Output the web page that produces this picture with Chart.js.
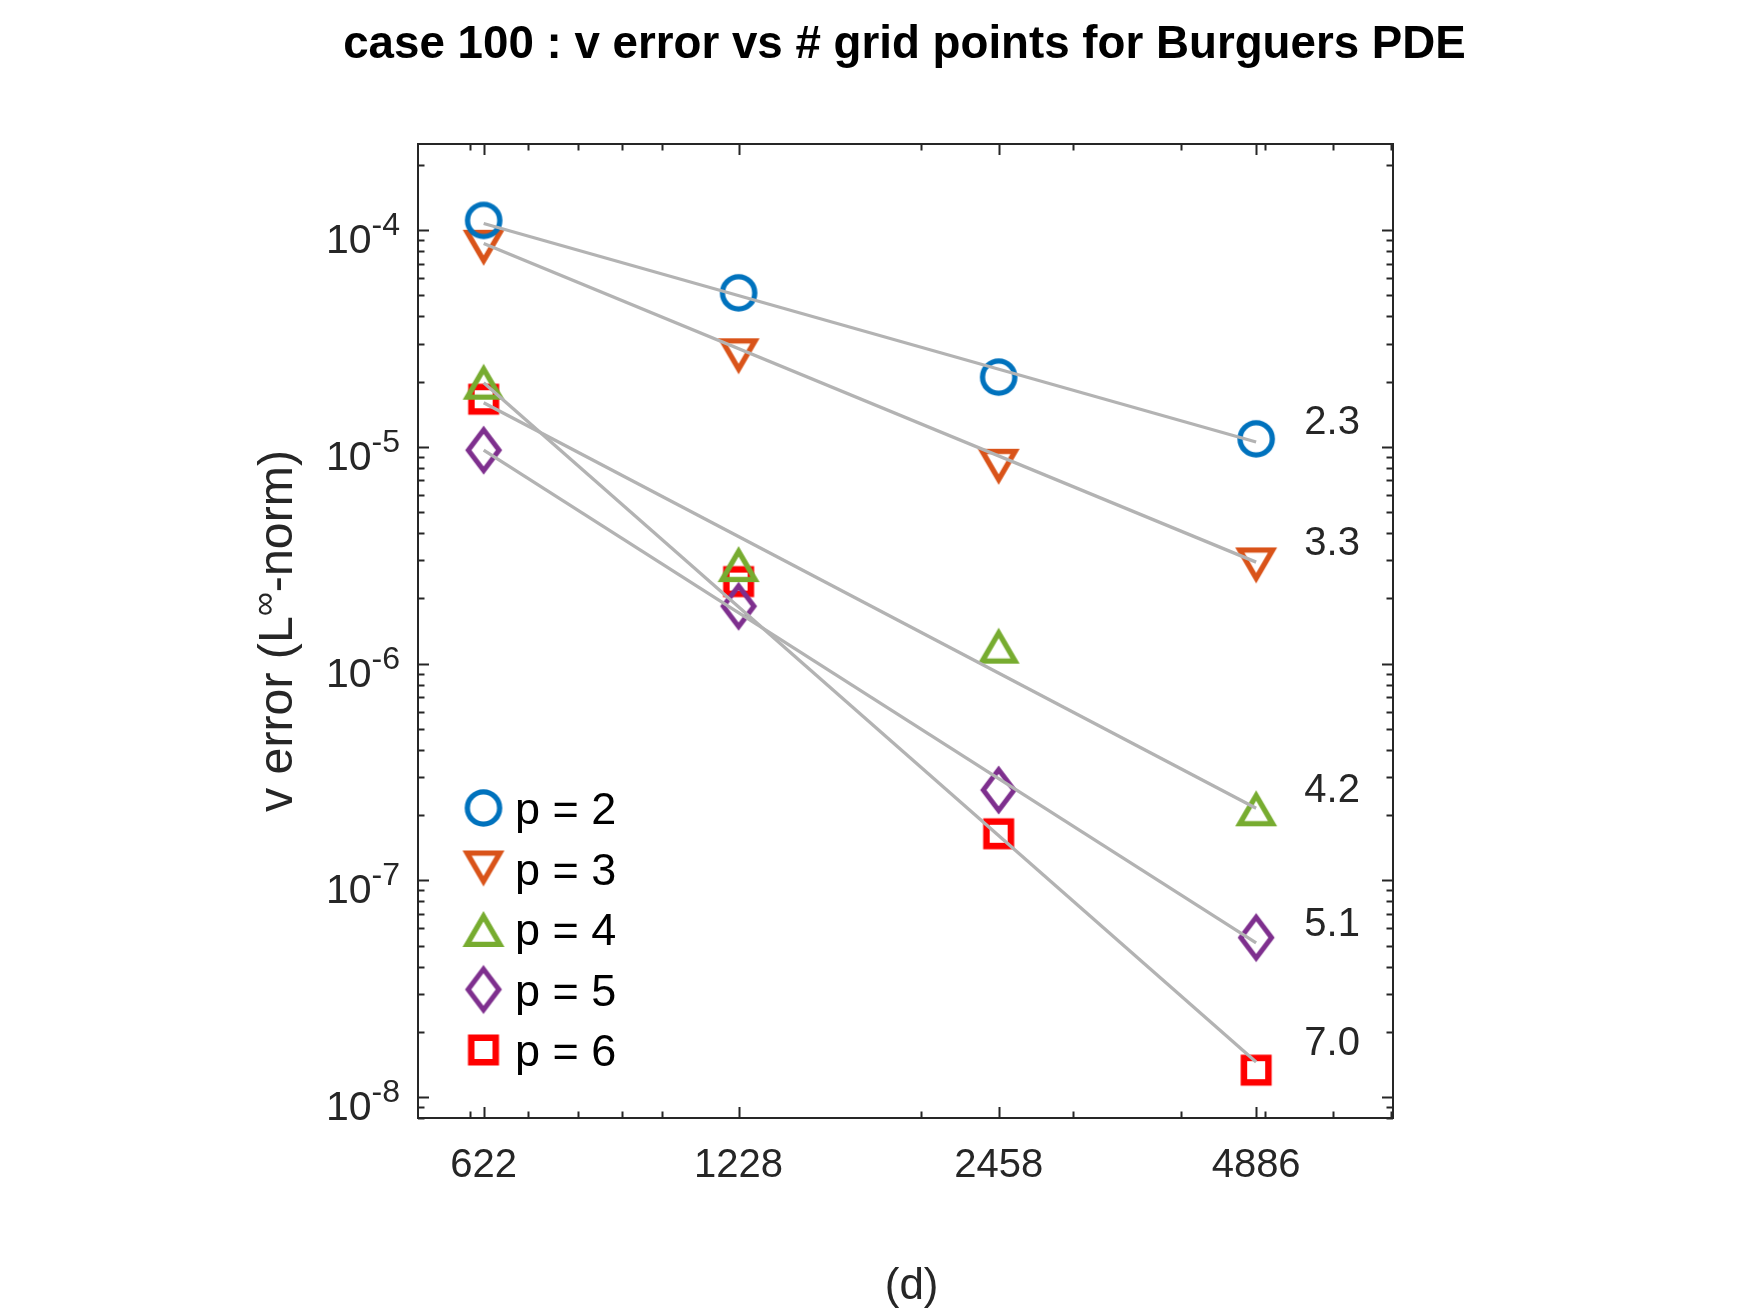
<!DOCTYPE html>
<html>
<head>
<meta charset="utf-8">
<script src="https://cdn.jsdelivr.net/npm/chart.js@4.4.1/dist/chart.umd.min.js"></script>
<style>
  html, body { margin: 0; padding: 0; background: #fff; }
</style>
</head>
<body>
<canvas id="errChart" width="1751" height="1313"></canvas>
<script>
// values
const gridPoints = [622, 1228, 2458, 4886];
const xTickLabels = ['622', '1228', '2458', '4886'];
const xMinorTicks = [600, 700, 800, 900, 1000, 2000, 3000, 4000, 5000, 6000, 7000];
const xRange = [522, 7040];
const yRange = [8e-9, 2.5e-4];
const yTickPowers = [-8, -7, -6, -5, -4];

const errP2 = [1.11e-4, 5.14e-5, 2.10e-5, 1.09e-5];
const errP3 = [8.3e-5, 2.62e-5, 8.1e-6, 2.84e-6];
const errP4 = [2.0e-5, 2.88e-6, 1.21e-6, 2.15e-7];
const errP5 = [9.66e-6, 1.84e-6, 2.61e-7, 5.44e-8];
const errP6 = [1.66e-5, 2.39e-6, 1.64e-7, 1.33e-8];

// fitted lines, end points at the first and last grid size
const fitX = [622, 4886];
const fitP2 = [1.074e-4, 1.054e-5];
const fitP3 = [8.68e-5, 2.94e-6];
const fitP4 = [1.6e-5, 2.15e-7];
const fitP5 = [9.66e-6, 5.14e-8];
const fitP6 = [1.98e-5, 1.45e-8];

// convergence order labels
const orderText = ['2.3', '3.3', '4.2', '5.1', '7.0'];
const orderX = 5985;
const orderY = [1.33e-5, 3.71e-6, 2.69e-7, 6.47e-8, 1.81e-8];

const seriesNames = ['p = 2', 'p = 3', 'p = 4', 'p = 5', 'p = 6'];
const seriesColors = ['#0072BD', '#D95319', '#77AC30', '#7E2F8E', '#FF0000'];
const seriesShapes = ['circle', 'triDown', 'triUp', 'diamond', 'square'];

const titleText = 'case 100 : v error vs # grid points for Burguers PDE';
const FONT = "'Liberation Sans', Arial, Helvetica, sans-serif";
const AXIS_COLOR = '#262626';
Chart.defaults.font.family = FONT;

// font size that makes a string span a given width
const measureCtx = document.createElement('canvas').getContext('2d');
function sizeForWidth(text, weight, target) {
  measureCtx.font = weight + ' 40px ' + FONT;
  return 40 * target / measureCtx.measureText(text).width;
}
const titleSize = Math.min(50, sizeForWidth(titleText, 'bold', 1123));
const ylabSize = Math.min(50, sizeForWidth('v error (L-norm)', 'normal', 338));

// matlab-like hollow markers drawn once into small canvases
const shapeGeom = {
  triDown: { pts: [[-21, -18], [21, -18], [0, 18]], c: [0, -5.94], k: 0.56 },
  triUp: { pts: [[0, -18], [21, 18], [-21, 18]], c: [0, 5.94], k: 0.56 },
  diamond: { pts: [[0, -24.5], [18.5, 0], [0, 24.5], [-18.5, 0]], c: [0, 0], k: 0.66 },
  square: { pts: [[-15.5, -15.5], [15.5, -15.5], [15.5, 15.5], [-15.5, 15.5]], c: [0, 0], k: 0.58 }
};

function makeMarker(shape, color) {
  const c = document.createElement('canvas');
  c.width = 60; c.height = 60;
  const g = c.getContext('2d');
  g.translate(30, 30);
  g.fillStyle = color;
  g.beginPath();
  if (shape === 'circle') {
    g.arc(0, 0, 18.8, 0, Math.PI * 2);
    g.moveTo(13.5, 0);
    g.arc(0, 0, 13.5, 0, Math.PI * 2, true);
  } else {
    const s = shapeGeom[shape];
    s.pts.forEach((p, i) => i ? g.lineTo(p[0], p[1]) : g.moveTo(p[0], p[1]));
    g.closePath();
    s.pts.forEach((p, i) => {
      const px = s.c[0] + (p[0] - s.c[0]) * s.k;
      const py = s.c[1] + (p[1] - s.c[1]) * s.k;
      i ? g.lineTo(px, py) : g.moveTo(px, py);
    });
    g.closePath();
  }
  g.fill('evenodd');
  return c;
}

const markers = seriesShapes.map((s, i) => makeMarker(s, seriesColors[i]));
const errSeries = [errP2, errP3, errP4, errP5, errP6];
const fitSeries = [fitP2, fitP3, fitP4, fitP5, fitP6];

const fitSets = fitSeries.map(f => ({
  type: 'line',
  data: fitX.map((x, i) => ({ x: x, y: f[i] })),
  borderColor: '#b3b3b3',
  borderWidth: 3.3,
  pointRadius: 0,
  fill: false
}));

const pointSets = errSeries.map((e, k) => ({
  label: seriesNames[k],
  data: gridPoints.map((x, i) => ({ x: x, y: e[i] })),
  showLine: false,
  pointStyle: markers[k],
  pointRadius: 20,
  borderColor: seriesColors[k],
  backgroundColor: seriesColors[k]
}));

function capText(ctx, txt, x, yMid, size) {
  // put the middle of the digits on yMid
  ctx.fillText(txt, x, yMid + size * 0.358);
}

const matlabAxes = {
  id: 'matlabAxes',
  afterDatasetsDraw(chart) {
    const { ctx, chartArea: a, scales: { x, y } } = chart;
    ctx.save();
    ctx.strokeStyle = AXIS_COLOR;
    ctx.lineWidth = 2;
    ctx.beginPath();
    const major = 11, minor = 6.5;
    gridPoints.concat(xMinorTicks).forEach((v, i) => {
      const len = i < gridPoints.length ? major : minor;
      const px = Math.round(x.getPixelForValue(v)) + 0.5;
      ctx.moveTo(px, a.bottom); ctx.lineTo(px, a.bottom - len);
      ctx.moveTo(px, a.top); ctx.lineTo(px, a.top + len);
    });
    for (let d = -9; d <= -4; d++) {
      for (let m = 1; m <= 9; m++) {
        const v = m * Math.pow(10, d);
        if (v < yRange[0] || v > yRange[1]) continue;
        const len = m === 1 ? major : minor;
        const py = Math.round(y.getPixelForValue(v)) + 0.5;
        ctx.moveTo(a.left, py); ctx.lineTo(a.left + len, py);
        ctx.moveTo(a.right, py); ctx.lineTo(a.right - len, py);
      }
    }
    ctx.stroke();
    ctx.strokeRect(a.left, a.top, a.right - a.left, a.bottom - a.top);
    ctx.restore();
  },
  afterDraw(chart) {
    const { ctx, chartArea: a, scales: { x, y } } = chart;
    ctx.save();

    // title, drawn here so it is not squeezed to the axes width
    ctx.fillStyle = '#000';
    ctx.font = 'bold ' + titleSize + 'px ' + FONT;
    ctx.textAlign = 'center';
    ctx.textBaseline = 'middle';
    ctx.fillText(titleText, (a.left + a.right) / 2 - 1, 45);

    ctx.fillStyle = AXIS_COLOR;
    ctx.textBaseline = 'alphabetic';

    // y tick labels 10^n
    yTickPowers.forEach(p => {
      const py = y.getPixelForValue(Math.pow(10, p));
      const right = a.left - 18;
      ctx.font = '32px ' + FONT;
      ctx.textAlign = 'right';
      const sup = '-' + Math.abs(p);
      ctx.fillText(sup, right, py + 5);
      const w = ctx.measureText(sup).width;
      ctx.font = '41px ' + FONT;
      ctx.fillText('10', right - w, py + 23);
    });

    // y axis title with superscript infinity
    const parts = [
      { t: 'v error (L', size: ylabSize, dy: 0 },
      { t: '\u221E', size: ylabSize * 0.7, dy: -ylabSize * 0.36 },
      { t: '-norm)', size: ylabSize, dy: 0 }
    ];
    ctx.translate(a.left - 126, (a.top + a.bottom) / 2);
    ctx.rotate(-Math.PI / 2);
    ctx.textAlign = 'left';
    let total = 0;
    parts.forEach(p => { ctx.font = p.size + 'px ' + FONT; p.w = ctx.measureText(p.t).width; total += p.w; });
    let cx = -total / 2;
    parts.forEach(p => {
      ctx.font = p.size + 'px ' + FONT;
      ctx.fillText(p.t, cx, p.dy);
      cx += p.w;
    });
    ctx.setTransform(1, 0, 0, 1, 0, 0);

    // order of accuracy labels
    ctx.font = '40px ' + FONT;
    ctx.textAlign = 'center';
    orderText.forEach((t, i) => {
      capText(ctx, t, x.getPixelForValue(orderX), y.getPixelForValue(orderY[i]), 40);
    });

    // legend inside the axes
    ctx.fillStyle = '#000';
    ctx.textAlign = 'left';
    ctx.font = '45px ' + FONT;
    seriesNames.forEach((name, i) => {
      const ry = a.top + 664 + i * 60.5;
      const mx = a.left + 65.5;
      const m = markers[i];
      ctx.drawImage(m, mx - m.width / 2, ry - m.height / 2);
      capText(ctx, name, a.left + 97, ry, 45);
    });
    ctx.restore();
  }
};

new Chart(document.getElementById('errChart'), {
  type: 'scatter',
  data: { datasets: fitSets.concat(pointSets) },
  plugins: [matlabAxes],
  options: {
    responsive: false,
    animation: false,
    events: [],
    layout: { padding: { left: 0, right: 358, top: 144, bottom: 0 } },
    plugins: {
      legend: { display: false },
      tooltip: { enabled: false },
      title: { display: false }
    },
    scales: {
      x: {
        type: 'logarithmic',
        min: xRange[0],
        max: xRange[1],
        grid: { display: false, drawTicks: false },
        border: { display: false },
        afterBuildTicks: s => { s.ticks = gridPoints.map(v => ({ value: v })); },
        afterFit: s => { s.height = 195; },
        ticks: {
          autoSkip: false,
          maxRotation: 0,
          padding: 24,
          color: AXIS_COLOR,
          font: { size: 40 },
          callback: (v, i) => xTickLabels[i]
        },
        title: {
          display: true,
          text: '\u00A0(d)',
          color: AXIS_COLOR,
          font: { size: 44, lineHeight: 1.2 },
          padding: { top: 0, bottom: 0 }
        }
      },
      y: {
        type: 'logarithmic',
        min: yRange[0],
        max: yRange[1],
        grid: { display: false, drawTicks: false },
        border: { display: false },
        ticks: { display: false },
        afterFit: s => { s.width = 418; }
      }
    }
  }
});
</script>
</body>
</html>
